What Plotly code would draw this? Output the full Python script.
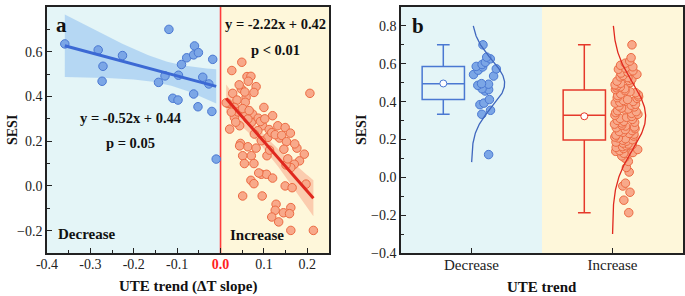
import numpy as np
import plotly.graph_objects as go

# ---------------- data ----------------
# Panel a: UTE trend (ΔT slope) vs SESI, decreasing-trend group
dec_x = [-0.359, -0.282, -0.271, -0.273, -0.226, -0.119, -0.143, -0.128, -0.110, -0.098,
         -0.097, -0.090, -0.078, -0.060, -0.062, -0.051, -0.041, -0.062, -0.052, -0.027,
         -0.020, -0.018, -0.010]
dec_y = [0.635, 0.608, 0.535, 0.468, 0.583, 0.700, 0.463, 0.492, 0.392, 0.384,
         0.495, 0.543, 0.573, 0.626, 0.586, 0.596, 0.486, 0.411, 0.354, 0.456,
         0.333, 0.566, 0.120]

# Panel a: increasing-trend group
inc_x = [0.049, 0.026, 0.061, 0.070, 0.064, 0.082, 0.077, 0.206, 0.048, 0.028,
         0.038, 0.059, 0.057, 0.017, 0.100, 0.032, 0.032, 0.055, 0.074, 0.120,
         0.021, 0.044, 0.071, 0.097, 0.132, 0.149, 0.086, 0.109, 0.136, 0.046,
         0.063, 0.082, 0.176, 0.193, 0.063, 0.078, 0.094, 0.013, 0.040, 0.051,
         0.066, 0.087, 0.092, 0.112, 0.118, 0.126, 0.141, 0.152, 0.161, 0.171,
         0.146, 0.044, 0.071, 0.051, 0.055, 0.077, 0.107, 0.113, 0.182, 0.170,
         0.162, 0.151, 0.155, 0.070, 0.077, 0.094, 0.106, 0.120, 0.149, 0.165,
         0.197, 0.051, 0.096, 0.128, 0.162, 0.126, 0.145, 0.159, 0.118, 0.134,
         0.162, 0.214, 0.035, 0.025, 0.043, 0.056, 0.102, 0.088]
inc_y = [0.553, 0.516, 0.489, 0.490, 0.468, 0.444, 0.418, 0.414, 0.434, 0.414,
         0.384, 0.396, 0.374, 0.369, 0.351, 0.351, 0.306, 0.321, 0.321, 0.314,
         0.254, 0.269, 0.284, 0.269, 0.269, 0.261, 0.247, 0.217, 0.214, 0.190,
         0.175, 0.169, 0.169, 0.142, 0.299, 0.232, 0.202, 0.372, 0.331, 0.346,
         0.337, 0.303, 0.288, 0.252, 0.238, 0.229, 0.226, 0.198, 0.236, 0.188,
         0.164, 0.179, 0.135, 0.135, 0.100, 0.100, 0.135, 0.160, 0.112, 0.097,
         0.082, 0.094, 0.121, 0.025, 0.010, 0.052, 0.052, 0.035, 0.000, -0.008,
         0.008, -0.045, -0.045, -0.082, -0.097, -0.109, -0.120, -0.124, -0.139, -0.161,
         -0.199, -0.199, 0.285, 0.330, 0.452, 0.420, 0.300, 0.058]

# Regression equations printed on panel a
dec_slope, dec_intercept = -0.52, 0.44
inc_slope, inc_intercept = -2.22, 0.42
t_dec, t_inc = 2.080, 1.989   # 95 % t quantiles (df = n - 2)

# Panel b: SESI by UTE trend group
categories = ["Decrease", "Increase"]
sesi_decrease = dec_y
sesi_increase = [0.700, 0.632, 0.614, 0.603, 0.592, 0.584, 0.577, 0.571, 0.563, 0.556,
                 0.551, 0.544, 0.538, 0.531, 0.527, 0.519, 0.512, 0.508, 0.501, 0.497,
                 0.489, 0.484, 0.478, 0.473, 0.468, 0.464, 0.458, 0.452, 0.447, 0.441,
                 0.436, 0.432, 0.426, 0.421, 0.417, 0.411, 0.406, 0.401, 0.397, 0.392,
                 0.386, 0.381, 0.377, 0.372, 0.366, 0.361, 0.357, 0.352, 0.347, 0.342,
                 0.338, 0.333, 0.328, 0.322, 0.317, 0.311, 0.306, 0.301, 0.296, 0.291,
                 0.287, 0.281, 0.276, 0.271, 0.266, 0.262, 0.257, 0.252, 0.247, 0.242,
                 0.238, 0.232, 0.228, 0.223, 0.218, 0.213, 0.208, 0.204, 0.199, 0.196,
                 0.191, 0.186, 0.181, 0.176, 0.171, 0.167, 0.162, 0.158, 0.152, 0.147,
                 0.141, 0.137, 0.131, 0.127, 0.124, 0.113, 0.102, 0.084, 0.052, 0.028,
                 -0.031, -0.046, -0.079, -0.121, -0.187]

x_tickvals_a = [-0.4, -0.3, -0.2, -0.1, 0.0, 0.1, 0.2]
x_ticktext_a = ["-0.4", "-0.3", "-0.2", "-0.1",
                '<span style="color:#FF1E1E"><b>0.0</b></span>', "0.1", "0.2"]

# ---------------- styling ----------------
SERIF = "Liberation Serif"
BLUE_FILL, BLUE_EDGE, BLUE_LINE = "#7BA6E6", "#4A78D2", "#3C69D4"
OR_FILL, OR_EDGE, RED_LINE = "#F8A98A", "#EC6A42", "#E0281E"
BG_DEC, BG_INC = "#E4F5F7", "#FEF7DA"
AXC = "#222222"


def ci_band(xs, ys, slope, intercept, tq):
    xs = np.asarray(xs, float)
    ys = np.asarray(ys, float)
    n = len(xs)
    res = ys - (slope * xs + intercept)
    s = np.sqrt(np.sum(res ** 2) / (n - 2))
    xbar = xs.mean()
    sxx = np.sum((xs - xbar) ** 2)
    g = np.linspace(xs.min(), xs.max(), 80)
    fit = slope * g + intercept
    hw = tq * s * np.sqrt(1.0 / n + (g - xbar) ** 2 / sxx)
    return g, fit, hw


fig = go.Figure()

# Panel a: confidence bands
for xs, ys, sl, ic, tq, col in [(dec_x, dec_y, dec_slope, dec_intercept, t_dec, "rgba(150,195,240,0.6)"),
                                (inc_x, inc_y, inc_slope, inc_intercept, t_inc, "rgba(248,150,120,0.45)")]:
    g, fit, hw = ci_band(xs, ys, sl, ic, tq)
    fig.add_trace(go.Scatter(x=np.concatenate([g, g[::-1]]),
                             y=np.concatenate([fit + hw, (fit - hw)[::-1]]),
                             fill="toself", fillcolor=col, line=dict(width=0),
                             mode="lines", hoverinfo="skip", showlegend=False,
                             xaxis="x", yaxis="y"))

# Panel a: points
fig.add_trace(go.Scatter(x=dec_x, y=dec_y, mode="markers", showlegend=False,
                         marker=dict(size=8.5, color=BLUE_FILL, line=dict(color=BLUE_EDGE, width=1)),
                         xaxis="x", yaxis="y"))
fig.add_trace(go.Scatter(x=inc_x, y=inc_y, mode="markers", showlegend=False,
                         marker=dict(size=8.5, color=OR_FILL, line=dict(color=OR_EDGE, width=1)),
                         xaxis="x", yaxis="y"))

# Panel a: regression lines
for xs, sl, ic, col in [(dec_x, dec_slope, dec_intercept, BLUE_LINE),
                        (inc_x, inc_slope, inc_intercept, RED_LINE)]:
    lx = np.array([min(xs), max(xs)])
    fig.add_trace(go.Scatter(x=lx, y=sl * lx + ic, mode="lines", showlegend=False,
                             line=dict(color=col, width=3), xaxis="x", yaxis="y"))

# Panel b: normal distribution curves
curve_ranges = [(0.08, 0.80), (-0.30, 0.80)]
curve_cols = ["#3F67BE", "#E0281E"]
for i, (vals, (lo, hi), col) in enumerate(zip([sesi_decrease, sesi_increase], curve_ranges, curve_cols)):
    v = np.asarray(vals, float)
    mu, sd = v.mean(), v.std(ddof=1)
    yy = np.linspace(lo, hi, 200)
    dens = np.exp(-0.5 * ((yy - mu) / sd) ** 2)
    fig.add_trace(go.Scatter(x=i + 0.235 * dens, y=yy, mode="lines", showlegend=False,
                             line=dict(color=col, width=1.3), xaxis="x2", yaxis="y2"))

# Panel b: boxes with points
box_specs = [(sesi_decrease, BLUE_EDGE, BLUE_FILL, BLUE_EDGE),
             (sesi_increase, "#E5392B", OR_FILL, OR_EDGE)]
for i, (vals, bcol, pfill, pedge) in enumerate(box_specs):
    fig.add_trace(go.Box(y=vals, x0=i - 0.2, width=0.3, name=categories[i],
                         boxpoints="all", jitter=0.6, pointpos=2.0,
                         whiskerwidth=0.3, quartilemethod="exclusive",
                         fillcolor="rgba(0,0,0,0)", line=dict(color=bcol, width=1.5),
                         marker=dict(size=8.5, color=pfill, line=dict(color=pedge, width=1)),
                         showlegend=False, xaxis="x2", yaxis="y2"))
    fig.add_trace(go.Scatter(x=[i - 0.2], y=[float(np.mean(vals))], mode="markers", showlegend=False,
                             marker=dict(size=7, color="white", line=dict(color=bcol, width=1)),
                             xaxis="x2", yaxis="y2"))

# ---------------- layout ----------------
W, H = 685, 296
dom_y = [1 - 253 / H, 1 - 7 / H]
dom_xa = [47 / W, 329 / W]
dom_xb = [401 / W, 683 / W]

axis_common = dict(showline=True, mirror=True, linecolor=AXC, linewidth=1.5,
                   ticks="inside", ticklen=5, tickwidth=1.2, tickcolor=AXC,
                   showgrid=False, zeroline=False,
                   tickfont=dict(family=SERIF, size=14, color="#222"))

fig.update_layout(
    width=W, height=H, margin=dict(l=0, r=0, t=0, b=0),
    paper_bgcolor="white", plot_bgcolor="white", template="none",
    boxmode="overlay",
    xaxis=dict(domain=dom_xa, range=[-0.4, 0.25], anchor="y",
               tickvals=x_tickvals_a, ticktext=x_ticktext_a,
               minor=dict(ticks="inside", ticklen=3, dtick=0.05, tick0=0, tickcolor=AXC),
               **axis_common),
    yaxis=dict(domain=dom_y, range=[-0.3, 0.8001], anchor="x", tick0=0, dtick=0.2, tickformat=".1f",
               minor=dict(ticks="inside", ticklen=3, dtick=0.1, tick0=0, tickcolor=AXC),
               **axis_common),
    xaxis2=dict(domain=dom_xb, range=[-0.5, 1.5], anchor="y2", type="linear",
                tickvals=[0, 1], ticktext=categories, **axis_common),
    yaxis2=dict(domain=dom_y, range=[-0.4001, 0.9], anchor="x2", tick0=0, dtick=0.2, tickformat=".1f",
                minor=dict(ticks="inside", ticklen=3, dtick=0.1, tick0=0, tickcolor=AXC),
                **axis_common),
)
fig.update_xaxes(tickfont=dict(family=SERIF, size=15, color="#222"), selector=dict(anchor="y2"))
fig.update_xaxes(ticklabelstandoff=-3)

shapes = [
    dict(type="rect", xref="x", yref="y domain", x0=-0.4, x1=0.0, y0=0, y1=1,
         fillcolor=BG_DEC, line=dict(width=0), layer="below"),
    dict(type="rect", xref="x", yref="y domain", x0=0.0, x1=0.25, y0=0, y1=1,
         fillcolor=BG_INC, line=dict(width=0), layer="below"),
    dict(type="line", xref="x", yref="y domain", x0=0, x1=0, y0=0, y1=1,
         line=dict(color="#FF3B3B", width=1.6), layer="below"),
    dict(type="rect", xref="x2", yref="y2 domain", x0=-0.5, x1=0.5, y0=0, y1=1,
         fillcolor=BG_DEC, line=dict(width=0), layer="below"),
    dict(type="rect", xref="x2", yref="y2 domain", x0=0.5, x1=1.5, y0=0, y1=1,
         fillcolor=BG_INC, line=dict(width=0), layer="below"),
]
fig.update_layout(shapes=shapes)

bold = lambda s: "<b>" + s + "</b>"
ann = []
def A(text, x, y, xref, yref, size, **kw):
    d = dict(text=text, x=x, y=y, xref=xref, yref=yref, showarrow=False,
             xanchor="center", yanchor="middle",
             font=dict(family=SERIF, size=size, color="#111"), **kw)
    ann.append(d)

A(bold("a"), -0.366, 0.72, "x", "y", 21)
A(bold("y = -0.52x + 0.44"), -0.207, 0.305, "x", "y", 14.5)
A(bold("p = 0.05"), -0.207, 0.19, "x", "y", 14.5)
A(bold("y = -2.22x + 0.42"), 0.126, 0.726, "x", "y", 14.5)
A(bold("p < 0.01"), 0.126, 0.61, "x", "y", 14.5)
A(bold("Decrease"), -0.308, -0.213, "x", "y", 15)
A(bold("Increase"), 0.083, -0.218, "x", "y", 15)
A(bold("b"), -0.376, 0.80, "x2", "y2", 21)
A(bold("SESI"), 12 / W, 1 - 130 / H, "paper", "paper", 14, textangle=-90)
A(bold("SESI"), 361 / W, 1 - 130 / H, "paper", "paper", 14, textangle=-90)
A(bold("UTE trend (ΔT slope)"), 188 / W, 1 - 286 / H, "paper", "paper", 15)
A(bold("UTE trend"), 542 / W, 1 - 287 / H, "paper", "paper", 15)
fig.update_layout(annotations=ann)

fig.write_html("out.html", config={"displayModeBar": False},
               post_script="document.body.style.margin='0px';")
